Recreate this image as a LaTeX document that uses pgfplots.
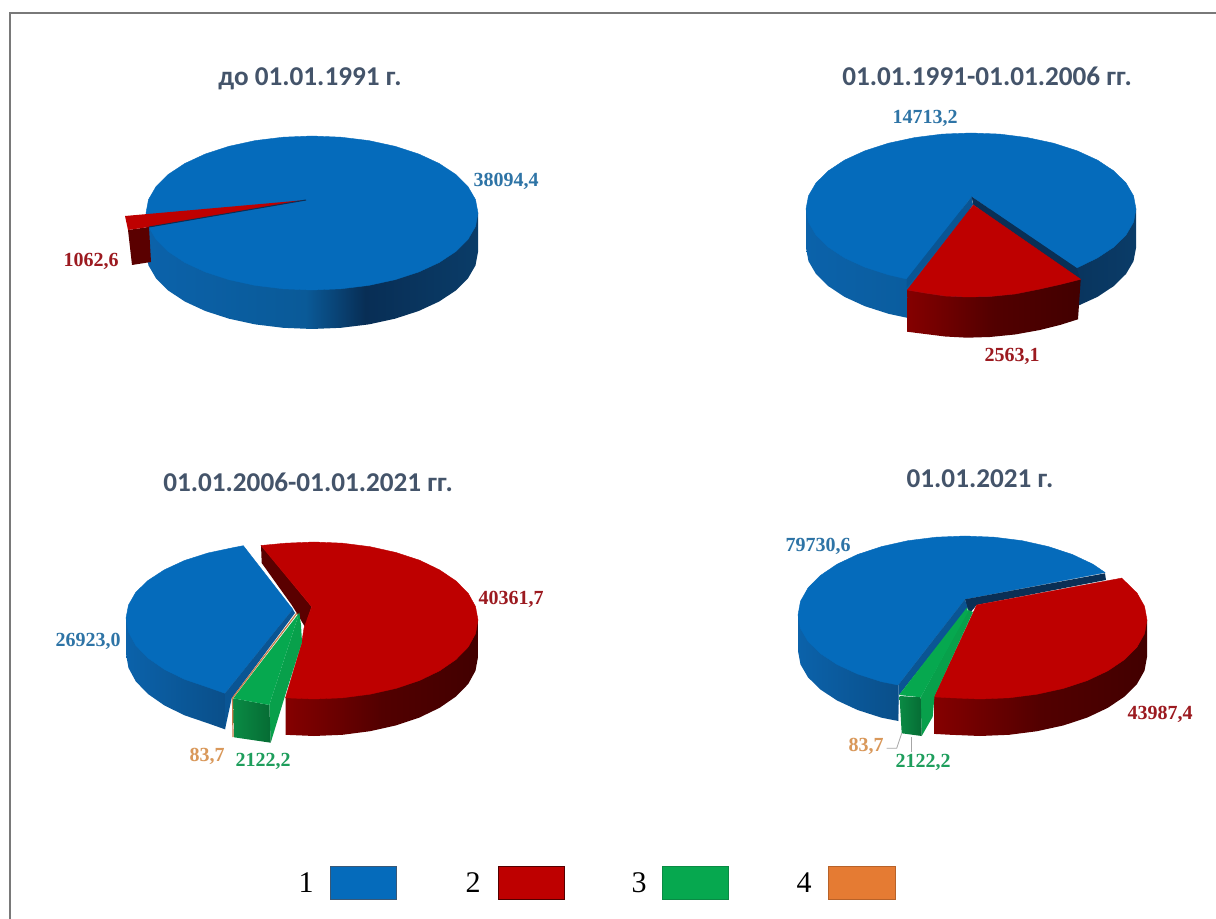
\documentclass[border=0pt]{standalone}
\usepackage{fontspec}
\usepackage{pgfplots}
\pgfplotsset{compat=1.18}
\setmainfont{Liberation Serif}
\newfontfamily\ttl{Carlito}
\definecolor{cBlue}{HTML}{056BBB}
\definecolor{cRed}{HTML}{BE0000}
\definecolor{cGreen}{HTML}{06A84F}
\definecolor{cOrange}{HTML}{E57B33}
\definecolor{wallBlue}{HTML}{0A5594}
\definecolor{wallDark}{HTML}{0A2F55}
\definecolor{wallRed}{HTML}{5A0000}
\definecolor{wallGreen}{HTML}{08A04B}
\definecolor{tTitle}{HTML}{44546A}
\definecolor{tBlue}{HTML}{2E74A6}
\definecolor{tRed}{HTML}{9C1A20}
\definecolor{tGreen}{HTML}{1E9E5C}
\definecolor{tOrange}{HTML}{D9985A}
\definecolor{bA}{HTML}{0B62AA}
\definecolor{bB}{HTML}{0A5A98}
\definecolor{bC}{HTML}{082E55}
\definecolor{bD}{HTML}{0A3C68}
\definecolor{bE}{HTML}{0A4F8A}
\definecolor{rA}{HTML}{850000}
\definecolor{rB}{HTML}{520000}
\definecolor{rC}{HTML}{420000}
\definecolor{gA}{HTML}{0A8A44}
\definecolor{gB}{HTML}{066C34}
\pgfdeclarehorizontalshading{blueSide}{100bp}{color(0bp)=(bA); color(25bp)=(bA); color(49bp)=(bB); color(58bp)=(bC); color(75bp)=(bD); color(100bp)=(bD)}
\pgfdeclarehorizontalshading{blueSideL}{100bp}{color(0bp)=(bA); color(25bp)=(bA); color(75bp)=(bE); color(100bp)=(bE)}
\pgfdeclarehorizontalshading{redSide}{100bp}{color(0bp)=(rA); color(25bp)=(rA); color(50bp)=(rB); color(75bp)=(rC); color(100bp)=(rC)}
\pgfdeclarehorizontalshading{greenSide}{100bp}{color(0bp)=(gA); color(25bp)=(gA); color(75bp)=(gB); color(100bp)=(gB)}
\newcommand{\lab}[4]{\node[text=#1,font=\fontsize{10}{12}\selectfont\bfseries,inner sep=0pt] at (axis cs:#2,#3) {#4};}
\newcommand{\tit}[3]{\node[text=tTitle,font=\ttl\fontsize{13.6}{16}\selectfont\bfseries,inner sep=0pt] at (axis cs:#1,#2) {#3};}
\newcommand{\num}[2]{\node[font=\fontsize{15}{18}\selectfont,inner sep=0pt] at (axis cs:#1,883) {#2};}
\begin{document}
\begin{tikzpicture}
\begin{axis}[scale only axis,width=608pt,height=459.5pt,xmin=0,xmax=1216,ymin=0,ymax=919,y dir=reverse,hide axis,clip=true]
% page and frame
\addplot[fill=white,draw=none] coordinates {(0,0)(1216,0)(1216,919)(0,919)} --cycle;
\addplot[draw=gray!95!black,line width=1pt] coordinates {(10,919)(10,13)(1216,13)};

% --- pie 1
\addplot[shade,shading=blueSide,draw=none] coordinates {(146,213)(146,252)(148.5,265.4)(156,278.3)(168.2,290.5)(184.8,301.5)(205.3,311)(229,318.7)(255.2,324.4)(283.1,327.8)(312,329)(340.9,327.8)(368.8,324.4)(395,318.7)(418.7,311)(439.2,301.5)(455.8,290.5)(468,278.3)(475.5,265.4)(478,252)(478,213)} --cycle;
\addplot[fill=cBlue,draw=cBlue,line width=.2pt] coordinates {(478,213)(475.5,199.6)(468,186.7)(455.8,174.5)(439.2,163.5)(418.7,154)(395,146.3)(368.8,140.6)(340.9,137.2)(312,136)(283.1,137.2)(255.2,140.6)(229,146.3)(205.3,154)(184.8,163.5)(168.2,174.5)(156,186.7)(148.5,199.6)(146,213)(148.5,226.4)(156,239.3)(168.2,251.5)(184.8,262.5)(205.3,272)(229,279.7)(255.2,285.4)(283.1,288.8)(312,290)(340.9,288.8)(368.8,285.4)(395,279.7)(418.7,272)(439.2,262.5)(455.8,251.5)(468,239.3)(475.5,226.4)} --cycle;
\addplot[fill=wallRed,draw=none] coordinates {(128,230)(149,227)(151,262)(132,265)} --cycle;
\addplot[fill=cRed,draw=none] coordinates {(306,200)(125,216)(128,230)(149,227)} --cycle;
\addplot[draw=wallDark,line width=.5pt] coordinates {(306,200)(149,227)};

% --- pie 2
\addplot[shade,shading=blueSide,draw=none] coordinates {(806,209)(806,248)(808.5,261.2)(816,274)(828.1,286)(844.6,296.9)(864.9,306.2)(888.5,313.8)(914.6,319.4)(942.3,322.9)(971,324)(999.7,322.9)(1027.4,319.4)(1053.5,313.8)(1077.1,306.2)(1097.4,296.9)(1113.9,286)(1126,274)(1133.5,261.2)(1136,248)(1136,209)} --cycle;
\addplot[fill=cBlue,draw=cBlue,line width=.2pt] coordinates {(971.7,196.7)(1076.7,268)(1097.4,257.9)(1113.9,247)(1126,235)(1133.5,222.2)(1136,209)(1133.5,195.8)(1126,183)(1113.9,171)(1097.4,160.1)(1077.1,150.8)(1053.5,143.2)(1027.4,137.6)(999.7,134.1)(971,133)(942.3,134.1)(914.6,137.6)(888.5,143.2)(864.9,150.8)(844.6,160.1)(828.1,171)(816,183)(808.5,195.8)(806,209)(808.5,222.2)(816,235)(828.1,247)(844.6,257.9)(864.9,267.2)(888.5,274.8)(906.7,279)} --cycle;
\addplot[fill=wallBlue,draw=none] coordinates {(971.7,196.7)(906.7,279)(906.7,288)(973,205)} --cycle;
\addplot[fill=wallDark,draw=none] coordinates {(971.7,196.7)(1076.7,268)(1080,279)(973.3,205)} --cycle;
\addplot[shade,shading=redSide,draw=none] coordinates {(907.3,290)(925,293)(945,296)(967,297)(990,296.5)(1015,294)(1040,289)(1060,284.5)(1080.7,279.3)(1078,319.3)(1060,325)(1040,330)(1015,334.5)(990,337)(967,337.7)(945,336.5)(925,334)(907,331.7)} --cycle;
\addplot[fill=cRed,draw=cRed,line width=.2pt] coordinates {(973.3,205)(907.3,290)(925,293)(945,296)(967,297)(990,296.5)(1015,294)(1040,289)(1060,284.5)(1080.7,279.3)} --cycle;

% --- pie 3
\addplot[shade,shading=blueSideL,draw=none] coordinates {(126,618)(126,654)(128.5,667.9)(135.8,681.4)(148,694)(164.4,705.4)(184.5,715.3)(208,723.3)(225,729.3)(225,693.3)} --cycle;
\addplot[fill=cBlue,draw=cBlue,line width=.2pt] coordinates {(292.7,609.3)(243.3,545.7)(233.9,547.5)(208,553)(184.5,560.5)(164.4,569.8)(148,580.5)(135.8,592.3)(128.5,605)(126,618)(128.5,631.9)(135.8,645.4)(148,658)(164.4,669.4)(184.5,679.3)(208,687.3)(225,693.3)} --cycle;
\addplot[fill=wallBlue,draw=none] coordinates {(292.7,609.3)(225,693.3)(225,729.3)(231.7,698.3)(295,613)} --cycle;
\addplot[shade,shading=redSide,draw=none] coordinates {(478,620)(478,657)(475.5,670.7)(468.2,684)(456,696.5)(439.6,707.8)(419.5,717.5)(396,725.4)(370.1,731.2)(342.5,734.8)(314,736)(285.5,734.8)(285.5,697.8)} --cycle;
\addplot[fill=wallRed,draw=none] coordinates {(261,545)(261.7,563)(291.7,605)(297,613.5)(305,627)(311.7,606.7)} --cycle;
\addplot[fill=cRed,draw=cRed,line width=.2pt] coordinates {(311.7,606.7)(261,545.5)(285.5,543.2)(314,542)(342.5,543.2)(370.1,546.7)(396,552.5)(419.5,560.2)(439.6,569.9)(456,581)(468.2,593.3)(475.5,606.5)(478,620)(475.5,633.7)(468.2,647)(456,659.5)(439.6,670.8)(419.5,680.5)(396,688.4)(370.1,694.2)(342.5,697.8)(314,699)(285.5,697.8)(301.7,643)(304,628)} --cycle;
\addplot[fill=wallGreen,draw=none] coordinates {(299.3,612.7)(269.3,705)(270.7,742.7)(284.5,697.5)(302,642)(301,625)} --cycle;
\addplot[shade,shading=greenSide,draw=none] coordinates {(233.3,698.3)(269.3,705)(270.7,742.7)(234,737.3)} --cycle;
\addplot[fill=cGreen,draw=none] coordinates {(299.3,612.7)(233.3,698.3)(269.3,705)} --cycle;
\addplot[draw=cOrange!70!gray,line width=.6pt] coordinates {(233,737)(232.5,698)(297,613)};

% --- pie 4
\addplot[shade,shading=blueSideL,draw=none] coordinates {(798,615)(798,651)(800.5,664.4)(808,677.3)(820.4,689.5)(837.1,700.5)(857.6,710)(881.5,717.7)(898.3,721)(898.3,685)} --cycle;
\addplot[fill=cBlue,draw=cBlue,line width=.2pt] coordinates {(965,599.3)(1105,572.5)(1092.9,564.2)(1072.4,554.5)(1048.5,546.6)(1022.1,540.7)(994.1,537.2)(965,536)(935.9,537.2)(907.9,540.7)(881.5,546.6)(857.6,554.5)(837.1,564.2)(820.4,575.5)(808,588)(800.5,601.3)(798,615)(800.5,628.4)(808,641.3)(820.4,653.5)(837.1,664.5)(857.6,674)(881.5,681.7)(898.3,685)} --cycle;
\addplot[fill=wallDark,draw=none] coordinates {(965,599.3)(1105,573.3)(1106,580)(976.7,605)(970,613)(966.7,606.7)} --cycle;
\addplot[fill=wallBlue,draw=none] coordinates {(965,599.3)(898.3,685)(898.3,721)(899,695)(967.7,608.3)} --cycle;
\addplot[shade,shading=redSide,draw=none] coordinates {(1147,620)(1147,657)(1144.5,670.7)(1137,684)(1124.6,696.5)(1107.9,707.8)(1087.4,717.5)(1063.5,725.4)(1037.1,731.2)(1009.1,734.8)(980,736)(950.9,734.8)(934,733.9)(934,696.9)} --cycle;
\addplot[fill=cRed,draw=cRed,line width=.2pt] coordinates {(976.7,605)(1121.7,578.1)(1137,593)(1144.5,606.3)(1147,620)(1144.5,633.7)(1137,647)(1124.6,659.5)(1107.9,670.8)(1087.4,680.5)(1063.5,688.4)(1037.1,694.2)(1009.1,697.8)(980,699)(950.9,697.8)(934,696.9)} --cycle;
\addplot[fill=wallGreen,draw=none] coordinates {(968,610)(920.7,697.3)(921.7,736)(932.7,716.7)(934.5,696)(973,612)} --cycle;
\addplot[shade,shading=greenSide,draw=none] coordinates {(899.5,696)(920.7,697.3)(921.7,736)(901.7,733.3)} --cycle;
\addplot[fill=cGreen,draw=none] coordinates {(967,607.5)(899,695)(920.7,697.3)(968,612)} --cycle;
\addplot[draw=gray!70,line width=.4pt] coordinates {(886.7,748.3)(896.7,748.3)(901.7,733.3)};
\addplot[draw=gray!70,line width=.4pt] coordinates {(911.7,736.7)(911.7,751.7)};

% --- legend
\addplot[fill=cBlue,draw=bC!80,line width=.4pt] coordinates {(330,866)(396,866)(396,899)(330,899)} --cycle;
\addplot[fill=cRed,draw=rB,line width=.4pt] coordinates {(498,866)(564,866)(564,899)(498,899)} --cycle;
\addplot[fill=cGreen,draw=gA,line width=.4pt] coordinates {(662,866)(728,866)(728,899)(662,899)} --cycle;
\addplot[fill=cOrange,draw=cOrange!80!black,line width=.4pt] coordinates {(828,866)(895,866)(895,899)(828,899)} --cycle;
\num{306}{1}\num{473}{2}\num{639}{3}\num{804}{4}

% --- titles
\tit{310}{79}{до 01.01.1991 г.}
\tit{987}{76}{01.01.1991-01.01.2006 гг.}
\tit{308}{482}{01.01.2006-01.01.2021 гг.}
\tit{980}{479}{01.01.2021 г.}

% --- labels
\lab{tBlue}{506}{181}{38094,4}
\lab{tRed}{91}{261}{1062,6}
\lab{tBlue}{925}{118}{14713,2}
\lab{tRed}{1012}{356}{2563,1}
\lab{tRed}{511}{599}{40361,7}
\lab{tBlue}{88}{641}{26923,0}
\lab{tOrange}{207}{756}{83,7}
\lab{tGreen}{263}{761}{2122,2}
\lab{tBlue}{818}{546}{79730,6}
\lab{tRed}{1160}{714}{43987,4}
\lab{tOrange}{866}{746}{83,7}
\lab{tGreen}{923}{762}{2122,2}
\end{axis}
\end{tikzpicture}
\end{document}
